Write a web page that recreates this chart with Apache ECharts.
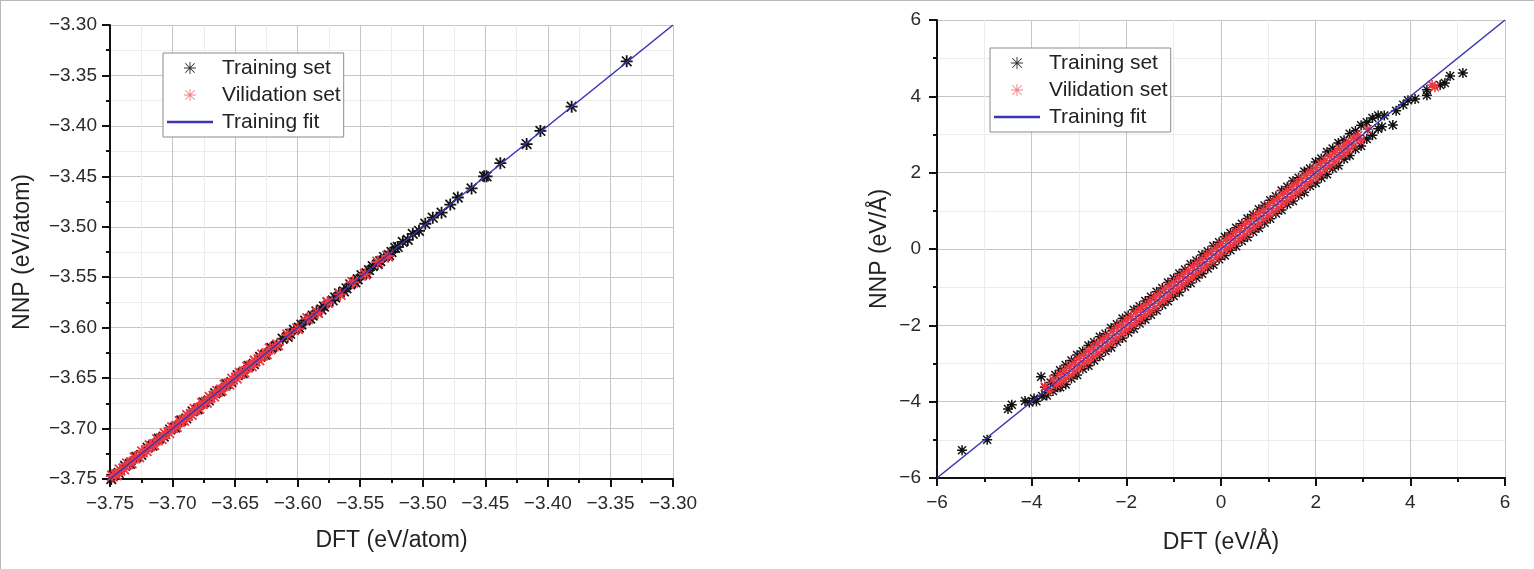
<!DOCTYPE html>
<html>
<head>
<meta charset="utf-8">
<script src="https://cdn.jsdelivr.net/npm/echarts@6/dist/echarts.min.js"></script>
<style>
html,body{margin:0;padding:0;background:#fff;}
#c{width:1534px;height:569px;position:relative;}
#frame{position:absolute;left:0;top:0;width:1534px;height:569px;border-top:1px solid #b8b8b8;border-left:1px solid #b8b8b8;box-sizing:border-box;pointer-events:none;}
</style>
</head>
<body>
<div id="c"></div>
<div id="frame"></div>
<script>
// ---------- Left panel: energies (eV/atom) ----------
const energyTicksX = [-3.75, -3.30];
const energyTrain = [
  [-3.337,-3.336],[-3.381,-3.381],[-3.406,-3.405],[-3.417,-3.418],[-3.438,-3.437],
  [-3.449,-3.450],[-3.451,-3.450],[-3.461,-3.462],[-3.472,-3.471],[-3.478,-3.478],
  [-3.485,-3.486],[-3.492,-3.491],[-3.498,-3.497],[-3.503,-3.504],[-3.508,-3.507],
  [-3.512,-3.513],[-3.516,-3.515],[-3.520,-3.520],
  [-3.522,-3.521],[-3.525,-3.525],[-3.527,-3.528],[-3.531,-3.530],[-3.534,-3.534],
  [-3.536,-3.537],[-3.540,-3.539],[-3.543,-3.543],
  [-3.545,-3.546],[-3.549,-3.548],[-3.552,-3.552],[-3.554,-3.555],[-3.558,-3.557],
  [-3.561,-3.561],[-3.563,-3.564],
  [-3.567,-3.566],[-3.570,-3.570],[-3.572,-3.573],[-3.576,-3.575],[-3.579,-3.579],
  [-3.581,-3.582],[-3.585,-3.584],[-3.588,-3.588],
  [-3.590,-3.591],[-3.594,-3.593],[-3.597,-3.597],[-3.599,-3.600],[-3.603,-3.602],
  [-3.606,-3.606],[-3.608,-3.609],
  [-3.612,-3.611],[-3.617,-3.618],[-3.621,-3.620],[-3.626,-3.627],[-3.630,-3.629],
  [-3.635,-3.636],[-3.639,-3.638],[-3.644,-3.645],[-3.648,-3.647],[-3.653,-3.654],
  [-3.657,-3.656],[-3.662,-3.663],[-3.666,-3.665],[-3.671,-3.672],[-3.675,-3.674],
  [-3.680,-3.681],[-3.684,-3.683],[-3.689,-3.690],[-3.693,-3.692],[-3.698,-3.699],
  [-3.702,-3.701],[-3.707,-3.708],[-3.711,-3.710],[-3.716,-3.717],[-3.720,-3.719],
  [-3.725,-3.726],[-3.729,-3.728],[-3.734,-3.735],[-3.738,-3.737],[-3.743,-3.744],
  [-3.747,-3.746],[-3.749,-3.750]
];
const energyVal = [
  [-3.748,-3.747],[-3.745,-3.746],[-3.742,-3.741],[-3.739,-3.740],[-3.736,-3.735],
  [-3.733,-3.734],[-3.730,-3.729],[-3.727,-3.728],[-3.724,-3.723],[-3.721,-3.722],
  [-3.718,-3.717],[-3.715,-3.716],[-3.712,-3.711],[-3.709,-3.710],[-3.706,-3.705],
  [-3.703,-3.704],[-3.700,-3.699],[-3.697,-3.698],[-3.694,-3.693],[-3.691,-3.692],
  [-3.688,-3.687],[-3.685,-3.686],[-3.682,-3.681],[-3.679,-3.680],[-3.676,-3.675],
  [-3.673,-3.674],[-3.670,-3.669],[-3.667,-3.668],[-3.664,-3.663],[-3.661,-3.662],
  [-3.658,-3.657],[-3.655,-3.656],[-3.652,-3.651],[-3.649,-3.650],[-3.646,-3.645],
  [-3.643,-3.644],[-3.640,-3.639],[-3.637,-3.638],[-3.634,-3.633],[-3.631,-3.632],
  [-3.628,-3.627],[-3.625,-3.626],[-3.622,-3.621],[-3.616,-3.617],[-3.608,-3.607],
  [-3.600,-3.601],[-3.592,-3.591],[-3.584,-3.585],[-3.576,-3.575],[-3.566,-3.567],
  [-3.556,-3.555],[-3.546,-3.547],[-3.536,-3.535],[-3.528,-3.529]
];
const energyFit = [[-3.75,-3.75],[-3.30,-3.30]];

// ---------- Right panel: forces (eV/Å) ----------
const forceTrain = [
  [-5.47,-5.27],[-4.94,-5.00],[-4.50,-4.19],[-4.42,-4.08],[-4.14,-3.98],[-4.05,-4.02],
  [-3.95,-3.92],[-3.90,-3.99],[-3.80,-3.35],[-3.78,-3.85],[-3.72,-3.62],[-3.68,-3.84],
  [-3.60,-3.50],[-3.55,-3.72],[-3.50,-3.30],[-3.45,-3.62],
  [-3.40,-3.18],[-3.40,-3.62],[-3.28,-3.04],[-3.28,-3.55],[-3.16,-2.92],[-3.16,-3.39],
  [-3.04,-2.78],[-3.04,-3.30],[-2.92,-2.68],[-2.92,-3.14],[-2.80,-2.53],[-2.80,-3.06],
  [-2.68,-2.44],[-2.68,-2.92],[-2.56,-2.30],[-2.56,-2.81],[-2.44,-2.22],[-2.44,-2.67],
  [-2.32,-2.07],[-2.32,-2.58],[-2.20,-1.97],[-2.20,-2.43],[-2.08,-1.82],[-2.08,-2.33],
  [-1.96,-1.74],[-1.96,-2.19],[-1.84,-1.59],[-1.84,-2.09],[-1.72,-1.50],[-1.72,-1.95],
  [-1.60,-1.36],[-1.60,-1.85],[-1.48,-1.25],[-1.48,-1.72],[-1.36,-1.12],[-1.36,-1.61],
  [-1.24,-1.02],[-1.24,-1.47],[-1.12,-0.88],[-1.12,-1.37],[-1.00,-0.77],[-1.00,-1.23],
  [-0.88,-0.64],[-0.88,-1.13],[-0.76,-0.54],[-0.76,-0.99],[-0.64,-0.40],[-0.64,-0.89],
  [-0.52,-0.30],[-0.52,-0.75],[-0.40,-0.16],[-0.40,-0.65],[-0.28,-0.06],[-0.28,-0.51],
  [-0.16,0.08],[-0.16,-0.41],[-0.04,0.18],[-0.04,-0.27],[0.08,0.32],[0.08,-0.17],
  [0.20,0.42],[0.20,-0.03],[0.32,0.56],[0.32,0.07],[0.44,0.66],[0.44,0.21],
  [0.56,0.80],[0.56,0.31],[0.68,0.90],[0.68,0.45],[0.80,1.04],[0.80,0.55],
  [0.92,1.14],[0.92,0.69],[1.04,1.28],[1.04,0.79],[1.16,1.38],[1.16,0.93],
  [1.28,1.53],[1.28,1.02],[1.40,1.63],[1.40,1.17],[1.52,1.78],[1.52,1.26],
  [1.64,1.87],[1.64,1.41],[1.76,2.03],[1.76,1.49],[1.88,2.11],[1.88,1.65],
  [2.00,2.28],[2.00,1.73],[2.12,2.37],[2.12,1.87],[2.24,2.54],[2.24,1.96],
  [2.36,2.63],[2.36,2.11],[2.48,2.78],[2.48,2.19],[2.60,2.85],[2.60,2.36],
  [2.72,3.02],[2.72,2.45],[2.84,3.09],[2.84,2.62],[2.96,3.24],[2.96,2.70],
  [3.08,3.32],[3.08,2.88],[3.20,3.43],[3.20,2.98],[3.32,3.50],[3.32,3.15],
  [3.45,3.50],[3.40,3.20],[3.63,3.25],[3.70,3.62],[3.85,3.78],[3.95,3.90],
  [4.10,3.93],[4.35,4.17],[4.35,4.03],[4.63,4.30],[4.73,4.35],[4.84,4.53],[5.11,4.61]
];
const forceVal = [
  [-3.72,-3.60],[-3.62,-3.72],[-3.55,-3.42],[-3.48,-3.56],[-3.40,-3.28],[-3.38,-3.50],
  [-3.30,-3.18],[-3.30,-3.41],[-3.20,-3.07],[-3.20,-3.32],[-3.10,-2.98],[-3.10,-3.21],
  [-3.00,-2.87],[-3.00,-3.12],[-2.90,-2.78],[-2.90,-3.01],[-2.80,-2.67],[-2.80,-2.92],
  [-2.70,-2.57],[-2.70,-2.82],[-2.60,-2.46],[-2.60,-2.73],[-2.50,-2.37],[-2.50,-2.62],
  [-2.40,-2.27],[-2.40,-2.53],[-2.30,-2.16],[-2.30,-2.43],[-2.20,-2.06],[-2.20,-2.33],
  [-2.10,-1.97],[-2.10,-2.22],[-2.00,-1.86],[-2.00,-2.13],[-1.90,-1.77],[-1.90,-2.02],
  [-1.80,-1.66],[-1.80,-1.93],[-1.70,-1.56],[-1.70,-1.83],[-1.60,-1.47],[-1.60,-1.72],
  [-1.50,-1.36],[-1.50,-1.63],[-1.40,-1.26],[-1.40,-1.53],[-1.30,-1.17],[-1.30,-1.42],
  [-1.20,-1.06],[-1.20,-1.33],[-1.10,-0.96],[-1.10,-1.23],[-1.00,-0.87],[-1.00,-1.12],
  [-0.90,-0.76],[-0.90,-1.03],[-0.80,-0.66],[-0.80,-0.93],[-0.70,-0.57],[-0.70,-0.82],
  [-0.60,-0.46],[-0.60,-0.73],[-0.50,-0.36],[-0.50,-0.63],[-0.40,-0.27],[-0.40,-0.52],
  [-0.30,-0.16],[-0.30,-0.43],[-0.20,-0.06],[-0.20,-0.33],[-0.10,0.03],[-0.10,-0.22],
  [0.00,0.14],[0.00,-0.13],[0.10,0.24],[0.10,-0.02],[0.20,0.33],[0.20,0.07],
  [0.30,0.44],[0.30,0.17],[0.40,0.53],[0.40,0.27],[0.50,0.64],[0.50,0.37],
  [0.60,0.73],[0.60,0.47],[0.70,0.84],[0.70,0.57],[0.80,0.94],[0.80,0.67],
  [0.90,1.03],[0.90,0.77],[1.00,1.14],[1.00,0.87],[1.10,1.24],[1.10,0.97],
  [1.20,1.33],[1.20,1.07],[1.30,1.44],[1.30,1.17],[1.40,1.53],[1.40,1.27],
  [1.50,1.64],[1.50,1.37],[1.60,1.73],[1.60,1.47],[1.70,1.84],[1.70,1.57],
  [1.80,1.93],[1.80,1.67],[1.90,2.04],[1.90,1.77],[2.00,2.13],[2.00,1.88],
  [2.10,2.24],[2.10,1.98],[2.20,2.32],[2.20,2.09],[2.30,2.43],[2.30,2.18],
  [2.40,2.52],[2.40,2.29],[2.50,2.62],[2.50,2.39],[2.60,2.71],[2.60,2.50],
  [2.70,2.80],[2.70,2.60],[2.80,2.90],[2.80,2.71],[2.90,2.98],[2.95,2.85],
  [3.10,3.14],[4.46,4.30],[4.52,4.24]
];
const forceFit = [[-6,-6],[6,6]];

const legendNames = ['Training set', 'Vilidation set', 'Training fit'];

const STAR = 'path://M8.5,0 H11.5 V20 H8.5 Z M0,8.5 H20 V11.5 H0 Z M1,3 L3,1 L19,17 L17,19 Z M17,1 L19,3 L3,19 L1,17 Z';
const STAR_THIN = 'path://M9.2,0 H10.8 V20 H9.2 Z M0,9.2 H20 V10.8 H0 Z M1.6,2.7 L2.7,1.6 L18.4,17.3 L17.3,18.4 Z M17.3,1.6 L18.4,2.7 L2.7,18.4 L1.6,17.3 Z';
const LINEICON = 'path://M0,0 H46 V2.4 H0 Z';
const FONT = 'Liberation Sans, Arial, sans-serif';
const C_TRAIN = '#111111', C_VAL = '#ec3844', C_FIT = '#3b35b5';

function fmt2(v){ return (v < 0 ? '\u2212' : '') + Math.abs(v).toFixed(2); }
function fmt0(v){ const r = Math.round(v); return (r < 0 ? '\u2212' : '') + Math.abs(r); }

function xAx(idx, min, max, interval, f, name, gap){
  return {
    type:'value', gridIndex:idx, min:min, max:max, interval:interval,
    name:name, nameLocation:'middle', nameGap:gap,
    nameTextStyle:{fontFamily:FONT, fontSize:23, color:'#222'},
    axisLine:{show:true, onZero:false, lineStyle:{color:'#111', width:2}},
    axisTick:{show:true, inside:false, length:8, lineStyle:{color:'#111', width:2}},
    minorTick:{show:true, splitNumber:2, length:4, lineStyle:{color:'#111', width:2}},
    axisLabel:{formatter:f, fontFamily:FONT, fontSize:19, color:'#2a2a2a', margin:15},
    splitLine:{show:true, lineStyle:{color:'#c6c6c6', width:1}},
    minorSplitLine:{show:true, lineStyle:{color:'#ececec', width:1}}
  };
}
function yAx(idx, min, max, interval, f, name, gap, margin){
  const a = xAx(idx, min, max, interval, f, name, gap);
  a.axisLabel.margin = margin;
  return a;
}

function legendFor(left, top){
  return {
    left:left, top:top, orient:'vertical',
    backgroundColor:'#fff', borderColor:'#8a8a8a', borderWidth:1,
    padding:[4, 3, 4, 4], itemGap:5, itemWidth:46, itemHeight:12,
    selectedMode:false, symbolKeepAspect:true,
    textStyle:{fontFamily:FONT, fontSize:21, lineHeight:22, color:'#222', padding:[0,0,0,4]},
    data:[
      {name:legendNames[0], icon:STAR_THIN, itemStyle:{color:'#333'}},
      {name:legendNames[1], icon:STAR_THIN, itemStyle:{color:'#f07f87'}},
      {name:legendNames[2], icon:LINEICON, itemStyle:{color:C_FIT}}
    ]
  };
}

function scatter(name, data, xi, color, size){
  return {type:'scatter', name:name, xAxisIndex:xi, yAxisIndex:xi, data:data,
    symbol:STAR, symbolSize:size, itemStyle:{color:color, opacity:1}, animation:false, silent:true};
}
function fitLine(name, data, xi){
  return {type:'line', name:name, xAxisIndex:xi, yAxisIndex:xi, data:data,
    showSymbol:false, symbol:'none', lineStyle:{color:C_FIT, width:1.6}, animation:false, silent:true, z:5};
}

const chart = echarts.init(document.getElementById('c'), null, {renderer:'canvas'});
chart.setOption({
  backgroundColor:'transparent',
  animation:false,
  grid:[
    {left:110, top:25, width:563, height:454},
    {left:937, top:20, width:568, height:458}
  ],
  xAxis:[
    xAx(0, energyTicksX[0], energyTicksX[1], 0.05, fmt2, 'DFT (eV/atom)', 50),
    xAx(1, forceFit[0][0], forceFit[1][0], 2, fmt0, 'DFT (eV/\u00C5)', 53)
  ],
  yAxis:[
    yAx(0, energyTicksX[0], energyTicksX[1], 0.05, fmt2, 'NNP (eV/atom)', 76, 13),
    yAx(1, forceFit[0][1], forceFit[1][1], 2, fmt0, 'NNP (eV/\u00C5)', 46, 16)
  ],
  legend:[legendFor(163, 53), legendFor(990, 48)],
  series:[
    scatter(legendNames[0], energyTrain, 0, C_TRAIN, 12),
    scatter(legendNames[1], energyVal, 0, C_VAL, 13),
    fitLine(legendNames[2], energyFit, 0),
    scatter(legendNames[0], forceTrain, 1, C_TRAIN, 10),
    scatter(legendNames[1], forceVal, 1, C_VAL, 10),
    fitLine(legendNames[2], forceFit, 1)
  ]
});
</script>
</body>
</html>
